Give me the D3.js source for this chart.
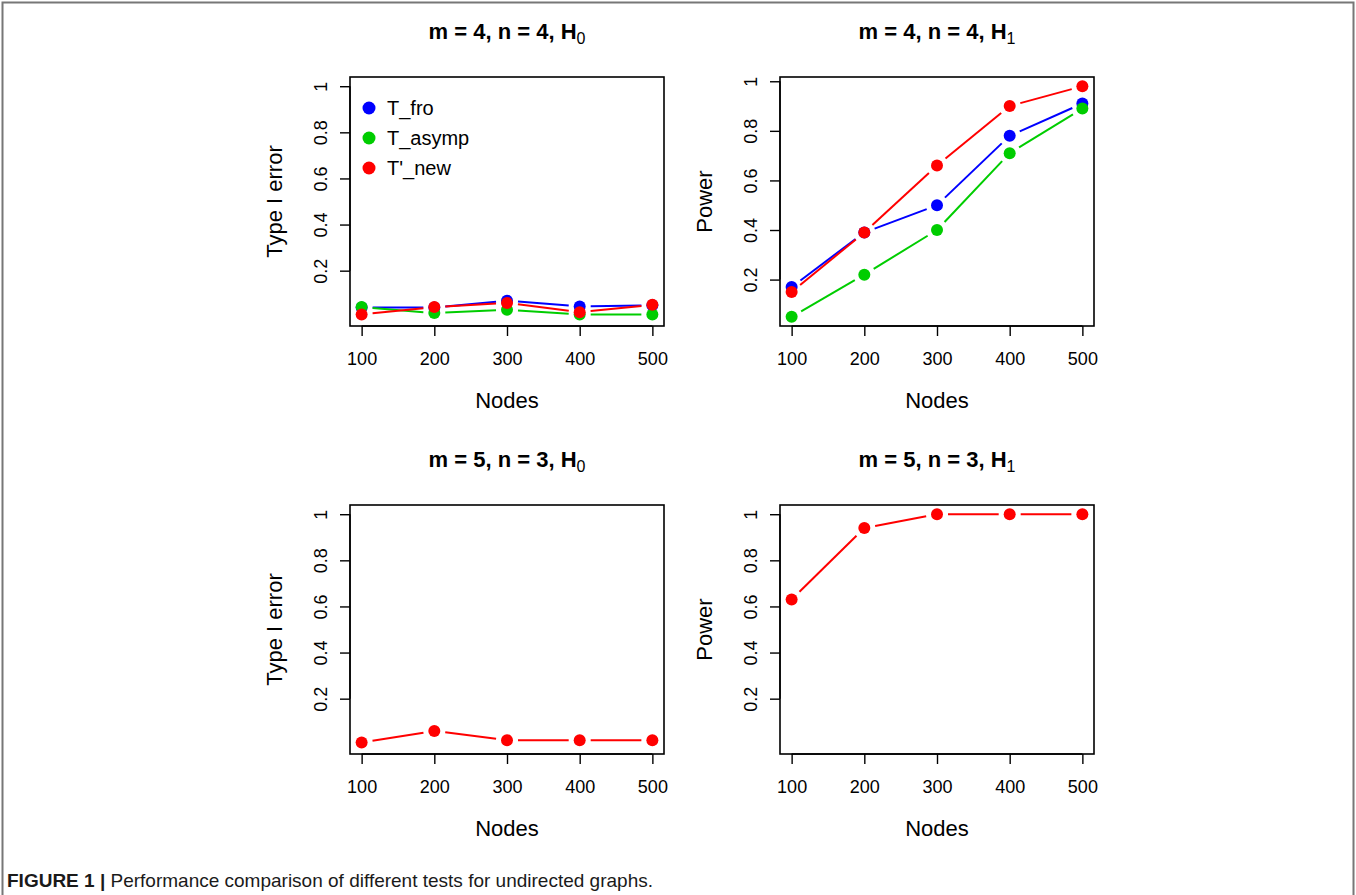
<!DOCTYPE html>
<html>
<head>
<meta charset="utf-8">
<script src="https://cdn.jsdelivr.net/npm/d3@7"></script>
<style>
  html, body { margin: 0; padding: 0; background: #fff; }
  svg { display: block; font-family: "Liberation Sans", Arial, Helvetica, sans-serif; }
</style>
</head>
<body>
<svg id="chart" width="1356" height="895"></svg>
<script>
// ---- data ----
const nodes = [100, 200, 300, 400, 500];
const yTicks = [0.2, 0.4, 0.6, 0.8, 1];
const yTickLabels = ["0.2", "0.4", "0.6", "0.8", "1"];
const xTickLabels = ["100", "200", "300", "400", "500"];
const seriesNames = ["T_fro", "T_asymp", "T'_new"];
const seriesColors = ["#0000FF", "#00CD00", "#FF0000"];

// panel 1: m=4, n=4, H0 (Type I error)
const p1_fro   = [0.04, 0.04, 0.07, 0.045, 0.05];
const p1_asymp = [0.042, 0.016, 0.03, 0.01, 0.01];
const p1_new   = [0.01, 0.042, 0.06, 0.02, 0.052];
// panel 2: m=4, n=4, H1 (Power)
const p2_fro   = [0.17, 0.39, 0.50, 0.78, 0.91];
const p2_asymp = [0.05, 0.22, 0.40, 0.71, 0.89];
const p2_new   = [0.15, 0.39, 0.66, 0.90, 0.98];
// panel 3: m=5, n=3, H0 (Type I error)
const p3_new   = [0.01, 0.06, 0.02, 0.02, 0.02];
// panel 4: m=5, n=3, H1 (Power)
const p4_new   = [0.63, 0.94, 1.00, 1.00, 1.00];

const panels = [
  { m: 4, n: 4, h: "0", ylab: "Type I error", ylim: [0, 1], legend: true,
    series: [{ v: p1_fro, c: 0 }, { v: p1_asymp, c: 1 }, { v: p1_new, c: 2 }] },
  { m: 4, n: 4, h: "1", ylab: "Power", ylim: null, legend: false,
    series: [{ v: p2_fro, c: 0 }, { v: p2_asymp, c: 1 }, { v: p2_new, c: 2 }] },
  { m: 5, n: 3, h: "0", ylab: "Type I error", ylim: [0, 1], legend: false,
    series: [{ v: p3_new, c: 2 }] },
  { m: 5, n: 3, h: "1", ylab: "Power", ylim: [0, 1], legend: false,
    series: [{ v: p4_new, c: 2 }] }
];

// ---- layout ----
const svg = d3.select("#chart");
const colLeft = [350, 780];
const rowTop = [77, 505];
const boxW = 314, boxH = 249;
const ptR = 6, gap = 11;

// figure frame
svg.append("path")
  .attr("d", "M2.5,895 L2.5,2.5 L1353.5,2.5 L1353.5,895")
  .attr("fill", "none").attr("stroke", "#777").attr("stroke-width", 2);

function ext(lo, hi) { const d = (hi - lo) * 0.04; return [lo - d, hi + d]; }

panels.forEach((p, i) => {
  const left = colLeft[i % 2], top = rowTop[Math.floor(i / 2)];
  const g = svg.append("g").attr("transform", `translate(${left},${top})`);

  let ylim = p.ylim;
  if (!ylim) {
    const all = p.series.flatMap(s => s.v);
    ylim = [d3.min(all), d3.max(all)];
  }
  const x = d3.scaleLinear().domain(ext(d3.min(nodes), d3.max(nodes))).range([0, boxW]);
  const y = d3.scaleLinear().domain(ext(ylim[0], ylim[1])).range([boxH, 0]);

  // box
  g.append("rect").attr("x", 0).attr("y", 0).attr("width", boxW).attr("height", boxH)
    .attr("fill", "none").attr("stroke", "#000").attr("stroke-width", 1.6);

  // x axis
  const xa = g.append("g").attr("transform", `translate(0,${boxH})`)
    .call(d3.axisBottom(x).tickValues(nodes).tickFormat((d, k) => xTickLabels[k]).tickSize(10).tickSizeOuter(0));
  xa.select(".domain").attr("d", `M${x(nodes[0])},0H${x(nodes[nodes.length - 1])}`).attr("stroke-width", 1.4);
  xa.selectAll(".tick line").attr("stroke-width", 1.4);
  xa.selectAll(".tick text").attr("font-size", 18).attr("font-family", "Liberation Sans, Arial, sans-serif")
    .attr("fill", "#000").attr("dy", null).attr("y", 39);

  // y axis
  const ya = g.append("g")
    .call(d3.axisLeft(y).tickValues(yTicks).tickFormat((d, k) => yTickLabels[k]).tickSize(10).tickSizeOuter(0));
  ya.select(".domain").attr("d", `M0,${y(yTicks[0])}V${y(yTicks[yTicks.length - 1])}`).attr("stroke-width", 1.4);
  ya.selectAll(".tick line").attr("stroke-width", 1.4);
  ya.selectAll(".tick text").attr("font-size", 18).attr("font-family", "Liberation Sans, Arial, sans-serif")
    .attr("fill", "#000").attr("x", null).attr("dy", null)
    .attr("text-anchor", "middle")
    .attr("transform", "translate(-23,0) rotate(-90)");

  // title
  const t = g.append("text").attr("x", boxW / 2).attr("y", -38)
    .attr("text-anchor", "middle").attr("font-weight", "bold").attr("font-size", 22).attr("fill", "#000");
  t.append("tspan").text(`m = ${p.m}, n = ${p.n}, H`);
  t.append("tspan").attr("font-size", 16).attr("font-weight", "normal").attr("dy", 5).text(p.h);

  // axis labels
  g.append("text").attr("x", boxW / 2).attr("y", boxH + 82).attr("text-anchor", "middle")
    .attr("font-size", 22).attr("fill", "#000").text("Nodes");
  g.append("text").attr("transform", `translate(-68,${boxH / 2}) rotate(-90)`)
    .attr("text-anchor", "middle").attr("font-size", 22).attr("fill", "#000").text(p.ylab);

  // series (type = "b": lines with gaps around points)
  p.series.forEach(s => {
    const col = seriesColors[s.c];
    const pts = s.v.map((v, k) => [x(nodes[k]), y(v)]);
    for (let k = 0; k < pts.length - 1; k++) {
      const [x0, y0] = pts[k], [x1, y1] = pts[k + 1];
      const L = Math.hypot(x1 - x0, y1 - y0);
      if (L <= 2 * gap) continue;
      const ux = (x1 - x0) / L, uy = (y1 - y0) / L;
      g.append("line")
        .attr("x1", x0 + ux * gap).attr("y1", y0 + uy * gap)
        .attr("x2", x1 - ux * gap).attr("y2", y1 - uy * gap)
        .attr("stroke", col).attr("stroke-width", 2);
    }
    g.selectAll(null).data(pts).enter().append("circle")
      .attr("cx", d => d[0]).attr("cy", d => d[1]).attr("r", ptR).attr("fill", col);
  });

  // legend
  if (p.legend) {
    const lg = g.append("g");
    seriesNames.forEach((nm, k) => {
      const ly = 31 + k * 30;
      lg.append("circle").attr("cx", 19).attr("cy", ly).attr("r", ptR + 0.5).attr("fill", seriesColors[k]);
      lg.append("text").attr("x", 37).attr("y", ly + 7).attr("font-size", 20).attr("fill", "#000").text(nm);
    });
  }
});

// caption
const cap = svg.append("text").attr("x", 7).attr("y", 887).attr("font-size", 19).attr("fill", "#1a1a1a");
cap.append("tspan").attr("font-weight", "bold").text("FIGURE 1 | ");
cap.append("tspan").text("Performance comparison of different tests for undirected graphs.");
</script>
</body>
</html>
